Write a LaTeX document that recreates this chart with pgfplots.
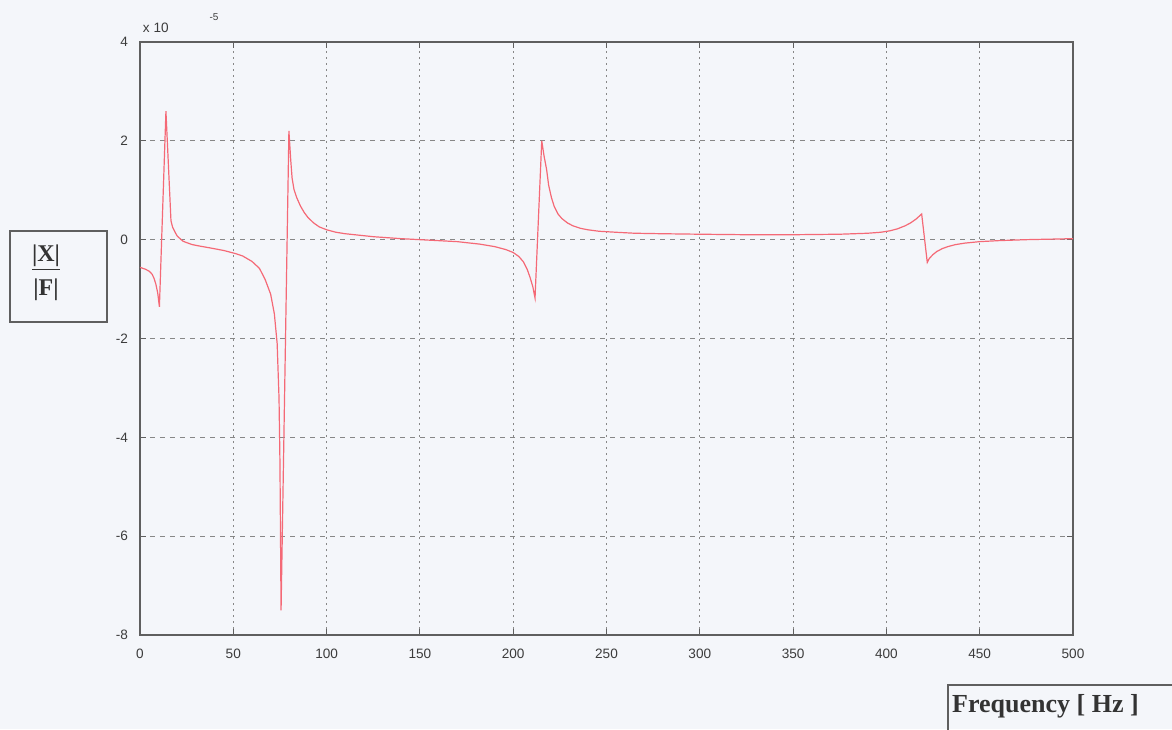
\documentclass[border=0pt]{standalone}
\usepackage{pgfplots}
\pgfplotsset{compat=1.18}
\usepackage{fontspec}
\setmainfont{Liberation Serif}
\newfontfamily\arialfont{Liberation Sans}

\definecolor{paper}{RGB}{244,246,250}
\definecolor{curve}{RGB}{244,105,118}
\definecolor{frame}{RGB}{95,95,95}
\definecolor{gridc}{RGB}{135,135,135}
\definecolor{ticktext}{RGB}{60,60,60}

\begin{document}
\begin{tikzpicture}
\path[use as bounding box, fill=paper] (-70pt,-47pt) rectangle (516pt,317.5pt);
\clip (-70pt,-47pt) rectangle (516pt,317.5pt);
\begin{axis}[
  scale only axis,
  width=466.5pt, height=296.5pt,
  xmin=0, xmax=500, ymin=-8, ymax=4,
  xtick={0,50,...,500},
  ytick={-8,-6,...,4},
  grid=major,
  x grid style={gridc, dash pattern=on 1.2pt off 1.8pt, line width=0.5pt},
  y grid style={gridc, dash pattern=on 2.5pt off 2.5pt, line width=0.5pt},
  axis line style={frame, line width=0.6pt},
  tick style={frame, line width=0.5pt},
  major tick length=3pt,
  tick align=inside,
  /pgf/number format/assume math mode=true,
  tick label style={font=\arialfont\fontsize{6.8}{8}\selectfont, text=ticktext},
  xticklabel style={yshift=-3.5pt},
  yticklabel style={xshift=-2.5pt},
  scaled y ticks=false,
  clip=true,
]
% receptance |X|/|F| (units of 1e-5) over frequency in Hz
\addplot[curve, line width=0.6pt] coordinates {
  (0,-0.56) (3,-0.6) (5,-0.64) (6.5,-0.7) (7.5,-0.78) (8.5,-0.9)
  (9.5,-1.08) (10.4,-1.36)
  (13.9,2.6) (16.6,0.38) (17.5,0.25) (18.8,0.15) (20,0.07) (21.5,0.02)
  (23,-0.03) (25,-0.06) (28,-0.1) (32,-0.13) (38,-0.17) (45,-0.22)
  (51,-0.28) (55,-0.33) (60,-0.44) (64,-0.58) (67,-0.8) (70,-1.1)
  (72,-1.5) (73.5,-2.1) (74.5,-3.2) (75,-4.5) (75.6,-7.5)
  (79.8,2.2) (80.8,1.6) (81.5,1.25) (82.5,1.02) (84,0.85) (86,0.68)
  (88,0.55) (90,0.45) (93,0.34) (96,0.26) (100,0.2) (105,0.15)
  (110,0.12) (125,0.06) (140,0.02) (150,0.0) (160,-0.02) (170,-0.04)
  (182,-0.09) (190,-0.14) (196,-0.2) (200,-0.26) (203,-0.34)
  (205.5,-0.45) (207.5,-0.6) (209,-0.76) (210.5,-0.95) (211.7,-1.18)
  (215.3,2.0) (216.5,1.7) (217.9,1.42) (219,1.1) (220.5,0.85)
  (222,0.67) (224,0.52) (226,0.43) (229,0.34) (232,0.28) (236,0.23)
  (240,0.2) (246,0.17) (255,0.15) (265,0.13) (280,0.12) (300,0.11)
  (325,0.1) (350,0.1) (375,0.11) (390,0.13) (397,0.15) (402,0.18)
  (406,0.22) (410,0.28) (413,0.34) (416,0.42) (418.9,0.52)
  (421.9,-0.46) (423,-0.38) (425,-0.3) (427,-0.24) (430,-0.18)
  (433,-0.14) (437,-0.1) (442,-0.07) (450,-0.04) (460,-0.02)
  (475,0.0) (500,0.02)
};
\end{axis}
% exponent of the y axis
\node[anchor=west, inner sep=0pt, font=\arialfont\fontsize{6.8}{8}\selectfont, text=ticktext] at (1.3pt,303.5pt) {x 10};
\node[inner sep=0pt, font=\arialfont\fontsize{5}{6}\selectfont, text=ticktext] at (37pt,309pt) {-5};
% boxed y label
\draw[frame, line width=0.7pt] (-65pt,156.5pt) rectangle (-16.5pt,202pt);
\node[inner sep=0pt, font=\fontsize{12}{12}\selectfont\bfseries, text=black!80] at (-47pt,188.5pt) {\underline{|X|}};
\node[inner sep=0pt, font=\fontsize{12}{12}\selectfont\bfseries, text=black!80] at (-47pt,172.5pt) {|F|};
% boxed x label
\draw[frame, line width=0.7pt] (403.9pt,-60pt) rectangle (530pt,-25pt);
\node[anchor=base west, inner sep=0pt, font=\fontsize{13}{13}\selectfont\bfseries, text=black!80] at (405.9pt,-38.9pt) {Frequency [ Hz ]};
\end{tikzpicture}
\end{document}
